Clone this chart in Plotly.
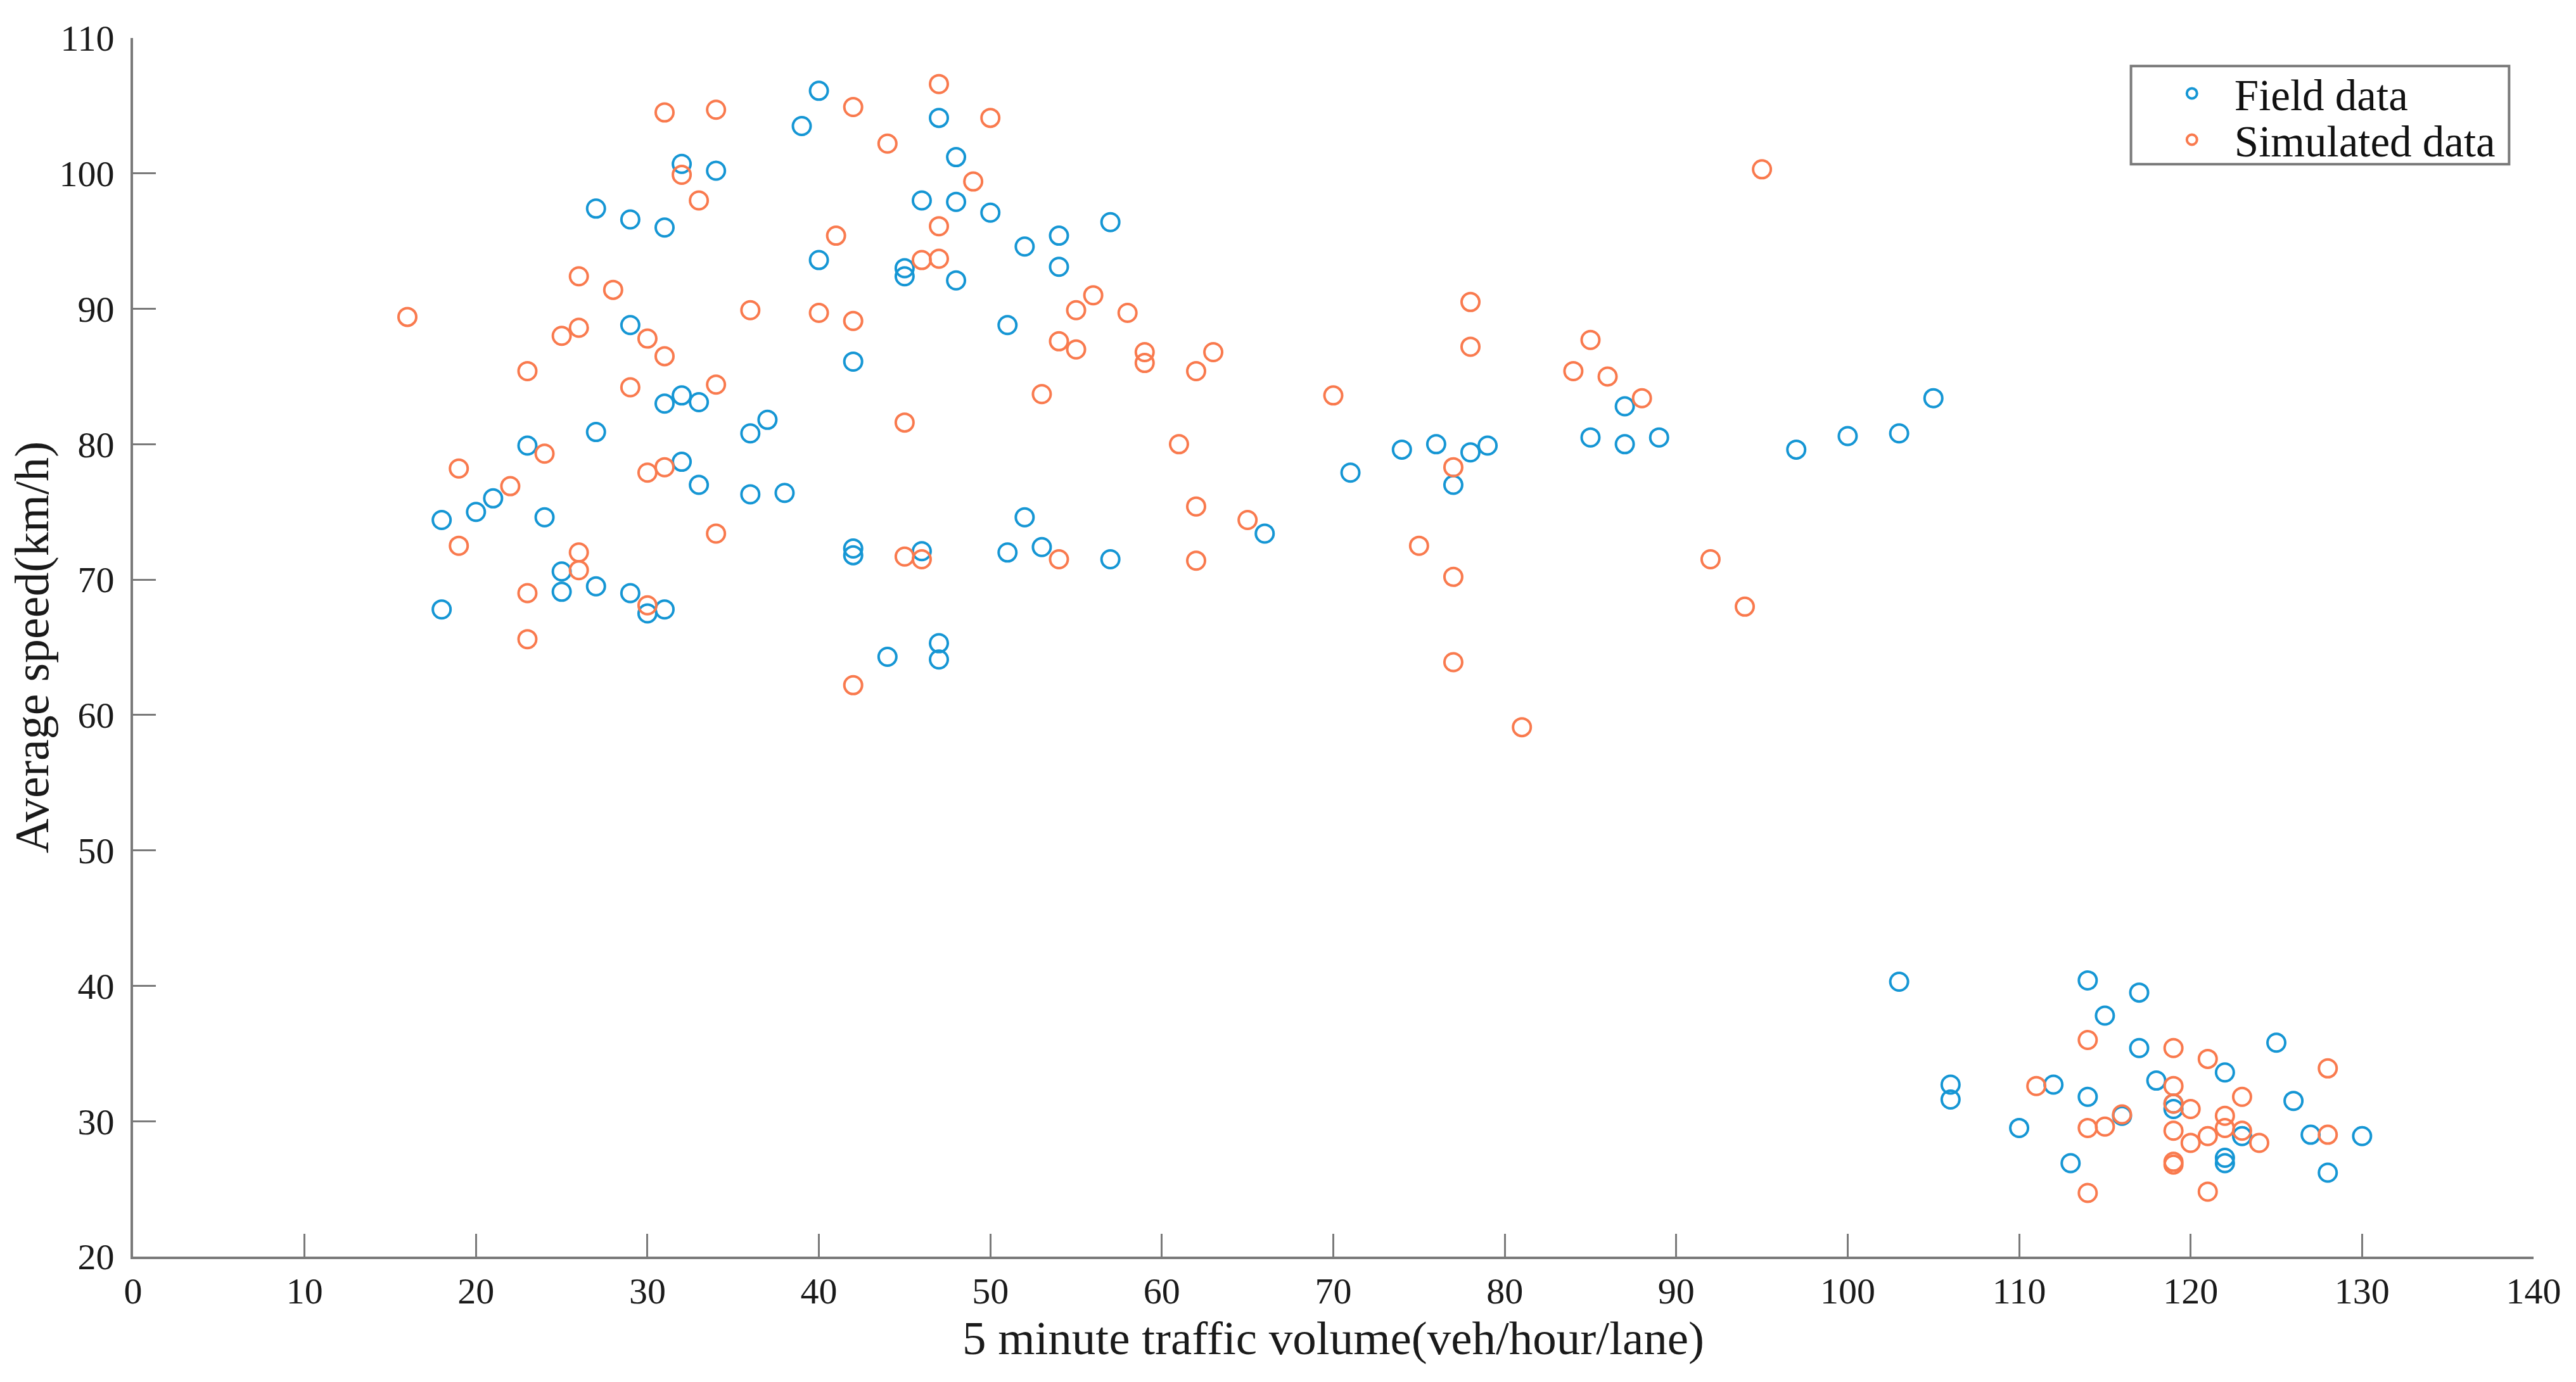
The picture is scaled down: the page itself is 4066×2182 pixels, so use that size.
import plotly.graph_objects as go

# Field data (blue)
field_x = [18, 18, 20, 21, 23, 24, 25, 25, 27, 27, 27, 29, 29, 29, 30, 31, 31, 31,
           32, 32, 32, 33, 33, 34, 36, 36, 37, 38, 39, 40, 40, 42, 42, 42, 44, 45,
           45, 46, 46, 47, 47, 47, 48, 48, 48, 50, 51, 51, 52, 52, 53, 54, 54, 57,
           57, 66, 71, 74, 76, 77, 78, 79, 85, 87, 87, 89, 97, 100, 103, 105,
           103, 106, 106, 110, 112, 113, 114, 114, 115, 116, 117, 117, 118, 119,
           119, 122, 122, 122, 123, 125, 126, 127, 128, 130]
field_y = [74.4, 67.8, 75.0, 76.0, 79.9, 74.6, 70.6, 69.1, 97.4, 80.9, 69.5, 96.6,
           88.8, 69.0, 67.5, 96.0, 83.0, 67.8, 100.7, 83.6, 78.7, 83.1, 77.0, 100.2,
           80.8, 76.3, 81.8, 76.4, 103.5, 106.1, 93.6, 86.1, 72.3, 71.8, 64.3, 93.0,
           92.4, 98.0, 72.1, 104.1, 65.3, 64.1, 101.2, 97.9, 92.1, 97.1, 88.8, 72.0,
           94.6, 74.6, 72.4, 95.4, 93.1, 96.4, 71.5, 73.4, 77.9, 79.6, 80.0, 77.0,
           79.4, 79.9, 80.5, 82.8, 80.0, 80.5, 79.6, 80.6, 80.8, 83.4,
           40.3, 32.7, 31.6, 29.5, 32.7, 26.9, 40.4, 31.8, 37.8, 30.4, 39.5, 35.4,
           33.0, 31.3, 30.9, 33.6, 27.3, 26.9, 28.9, 35.8, 31.5, 29.0, 26.2, 28.9]

# Simulated data (orange)
sim_x = [16, 19, 19, 22, 23, 23, 23, 24, 25, 26, 26, 26, 26, 28, 29, 30, 30, 30,
         31, 31, 31, 32, 33, 34, 34, 34, 36, 40, 41, 42, 42, 42, 44, 45, 45, 46,
         46, 47, 47, 47, 49, 50, 53, 54, 54, 55, 55, 56, 58, 59, 59, 61, 62, 62,
         62, 63, 65, 70, 75, 77, 77, 77, 78, 78, 81, 84, 85, 86, 88, 92, 94, 95,
         111, 114, 114, 114, 115, 116, 119, 119, 119, 119, 119, 119, 120, 120,
         121, 121, 121, 122, 122, 123, 123, 124, 128, 128]
sim_y = [89.4, 78.2, 72.5, 76.9, 85.4, 69.0, 65.6, 79.3, 88.0, 92.4, 88.6, 72.0,
         70.7, 91.4, 84.2, 87.8, 77.9, 68.1, 104.5, 86.5, 78.3, 99.9, 98.0, 104.7,
         84.4, 73.4, 89.9, 89.7, 95.4, 104.9, 89.1, 62.2, 102.2, 81.6, 71.7, 93.6,
         71.5, 106.6, 96.1, 93.7, 99.4, 104.1, 83.7, 87.6, 71.5, 89.9, 87.0, 91.0,
         89.7, 86.8, 86.0, 80.0, 85.4, 75.4, 71.4, 86.8, 74.4, 83.6, 72.5, 78.3,
         70.2, 63.9, 90.5, 87.2, 59.1, 85.4, 87.7, 85.0, 83.4, 71.5, 68.0, 100.3,
         32.6, 36.0, 29.5, 24.7, 29.6, 30.5, 35.4, 32.6, 31.3, 29.3, 27.0, 26.8,
         30.9, 28.4, 34.6, 28.9, 24.8, 30.4, 29.5, 31.8, 29.3, 28.4, 33.9, 29.0]

x_ticks = list(range(0, 141, 10))
y_ticks = list(range(20, 111, 10))

BLUE = "#1596d4"
ORANGE = "#f97a4e"
AXC = "#7a7a7a"
FONT = "Liberation Serif, Times New Roman, serif"
LEG_FONT = dict(family=FONT, size=69, color="#111111")

fig = go.Figure()
fig.add_trace(go.Scatter(
    x=field_x, y=field_y, mode="markers", name="Field data", legend="legend",
    marker=dict(symbol="circle-open", size=28, color=BLUE, line=dict(width=4, color=BLUE)),
))
fig.add_trace(go.Scatter(
    x=sim_x, y=sim_y, mode="markers", name="Simulated data", legend="legend2",
    marker=dict(symbol="circle-open", size=28, color=ORANGE, line=dict(width=4, color=ORANGE)),
))

# legend frame
fig.add_shape(type="rect", xref="paper", yref="paper",
              x0=0.8323, x1=0.9898, y0=0.8964, y1=0.977,
              line=dict(color=AXC, width=4), fillcolor="white", layer="above")

fig.update_layout(
    width=4066, height=2182,
    paper_bgcolor="white", plot_bgcolor="white",
    margin=dict(l=202, r=75, t=52, b=206),
    font=dict(family=FONT, size=58, color="#1a1a1a"),
    showlegend=True,
    legend=dict(x=0.840, y=0.9545, xanchor="left", yanchor="middle",
                borderwidth=0, bgcolor="rgba(0,0,0,0)", font=LEG_FONT, itemwidth=124),
    legend2=dict(x=0.840, y=0.9165, xanchor="left", yanchor="middle",
                 borderwidth=0, bgcolor="rgba(0,0,0,0)", font=LEG_FONT, itemwidth=124),
    xaxis=dict(
        range=[0, 140], tickvals=x_ticks, ticktext=[str(v) for v in x_ticks],
        showgrid=False, zeroline=False, showline=True, linecolor=AXC, linewidth=4,
        ticks="inside", ticklen=36, tickwidth=3, tickcolor=AXC,
        tickfont=dict(family=FONT, size=58, color="#1a1a1a"),
        title=dict(text="5 minute traffic volume(veh/hour/lane)",
                   font=dict(family=FONT, size=75, color="#1a1a1a"), standoff=8),
    ),
    yaxis=dict(
        range=[20, 110], tickvals=y_ticks, ticktext=[str(v) for v in y_ticks],
        showgrid=False, zeroline=False, showline=True, linecolor=AXC, linewidth=4,
        ticks="inside", ticklen=36, tickwidth=3, tickcolor=AXC,
        ticklabelstandoff=14,
        tickfont=dict(family=FONT, size=58, color="#1a1a1a"),
        title=dict(text="Average speed(km/h)",
                   font=dict(family=FONT, size=76, color="#1a1a1a"), standoff=8),
    ),
)

fig.write_html("out.html")
